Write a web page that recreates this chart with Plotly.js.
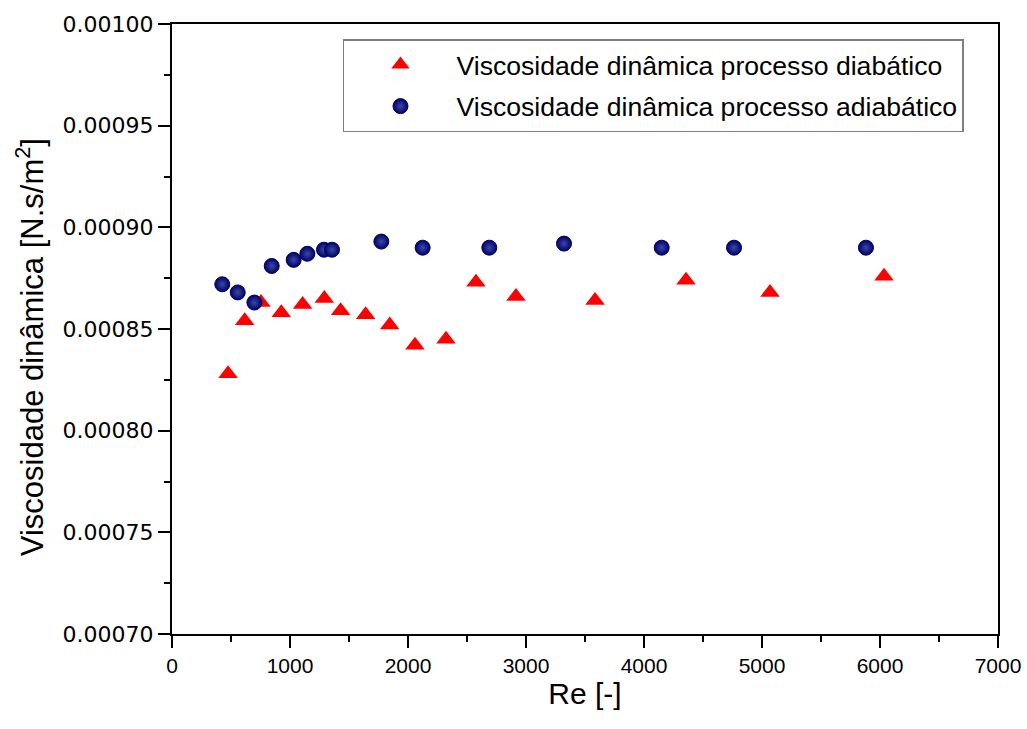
<!DOCTYPE html>
<html>
<head>
<meta charset="utf-8">
<script src="https://cdn.plot.ly/plotly-3.0.1.min.js"></script>
<style>html,body{margin:0;padding:0;background:#fff;}#chart{width:1027px;height:729px;}</style>
</head>
<body>
<div id="chart"></div>
<script>
// Diabatic process (red triangles)
const reDiabatico = [475, 616, 754, 926, 1107, 1291, 1429, 1641, 1845, 2059, 2322, 2576, 2915, 3585, 4356, 5068, 6034];
const viscDiabatico = [0.000828, 0.000854, 0.000863, 0.000858, 0.000862, 0.000865, 0.000859, 0.000857, 0.000852, 0.000842, 0.000845, 0.000873, 0.000866, 0.000864, 0.000874, 0.000868, 0.000876];
// Adiabatic process (blue spheres)
const reAdiabatico = [426, 557, 698, 845, 1031, 1147, 1288, 1356, 1774, 2124, 2689, 3322, 4150, 4763, 5881];
const viscAdiabatico = [0.000872, 0.000868, 0.000863, 0.000881, 0.000884, 0.000887, 0.000889, 0.000889, 0.000893, 0.000890, 0.000890, 0.000892, 0.000890, 0.000890, 0.000890];

const nameDiabatico = 'Viscosidade dinâmica processo diabático';
const nameAdiabatico = 'Viscosidade dinâmica processo adiabático';
const xTitle = 'Re [-]';
const yTitle = 'Viscosidade dinâmica [N.s/m<sup>2</sup>]';

const traces = [
  {
    x: reDiabatico, y: viscDiabatico, name: nameDiabatico, type: 'scatter', mode: 'markers',
    legendgroup: 'a',
    marker: {symbol: 'triangle-up', size: 17, color: '#ff0000', line: {width: 0}}
  },
  {
    x: reAdiabatico, y: viscAdiabatico, name: nameAdiabatico, type: 'scatter', mode: 'markers',
    legendgroup: 'b',
    marker: {symbol: 'circle', size: 15, color: '#00006e',
      gradient: {type: 'radial', color: '#3a4aa0'},
      line: {width: 1, color: '#000060'}}
  }
];

const layout = {
  width: 1027, height: 729,
  margin: {l: 172, r: 29, t: 24, b: 95},
  paper_bgcolor: '#ffffff', plot_bgcolor: '#ffffff',
  font: {family: 'Arial, "Liberation Sans", sans-serif', color: '#000000'},
  showlegend: true,
  legend: {
    x: 0.207, y: 0.975, xanchor: 'left', yanchor: 'top',
    bordercolor: '#7f7f7f', borderwidth: 1.5, bgcolor: '#ffffff',
    font: {size: 26.6, family: 'Arial, "Liberation Sans", sans-serif', color: '#000'},
    tracegroupgap: 4, itemwidth: 102
  },
  xaxis: {
    range: [0, 7000], dtick: 1000, tick0: 0,
    showgrid: false, zeroline: false,
    showline: true, linewidth: 2, linecolor: '#000', mirror: true,
    ticks: 'outside', ticklen: 12, tickwidth: 2, tickcolor: '#000',
    minor: {dtick: 500, ticks: 'outside', ticklen: 6, tickwidth: 2, tickcolor: '#000', showgrid: false},
    tickfont: {size: 21, family: 'Arial, "Liberation Sans", sans-serif'},
    title: {text: xTitle, font: {size: 30}, standoff: 2}
  },
  yaxis: {
    range: [0.00070, 0.00100], dtick: 0.00005, tick0: 0.0007, tickformat: '.5f',
    showgrid: false, zeroline: false,
    showline: true, linewidth: 2, linecolor: '#000', mirror: true,
    ticks: 'outside', ticklen: 12, tickwidth: 2, tickcolor: '#000',
    minor: {dtick: 0.000025, ticks: 'outside', ticklen: 6, tickwidth: 2, tickcolor: '#000', showgrid: false},
    tickfont: {size: 22, family: '"DejaVu Sans", Verdana, sans-serif'}
  },
  annotations: [{
    text: yTitle, textangle: -90, showarrow: false,
    xref: 'paper', yref: 'paper', x: -0.172, y: 0.47,
    xanchor: 'center', yanchor: 'middle',
    font: {size: 31, family: 'Arial, "Liberation Sans", sans-serif', color: '#000'}
  }]
};

Plotly.newPlot('chart', traces, layout, {staticPlot: true, displayModeBar: false});
</script>
</body>
</html>
